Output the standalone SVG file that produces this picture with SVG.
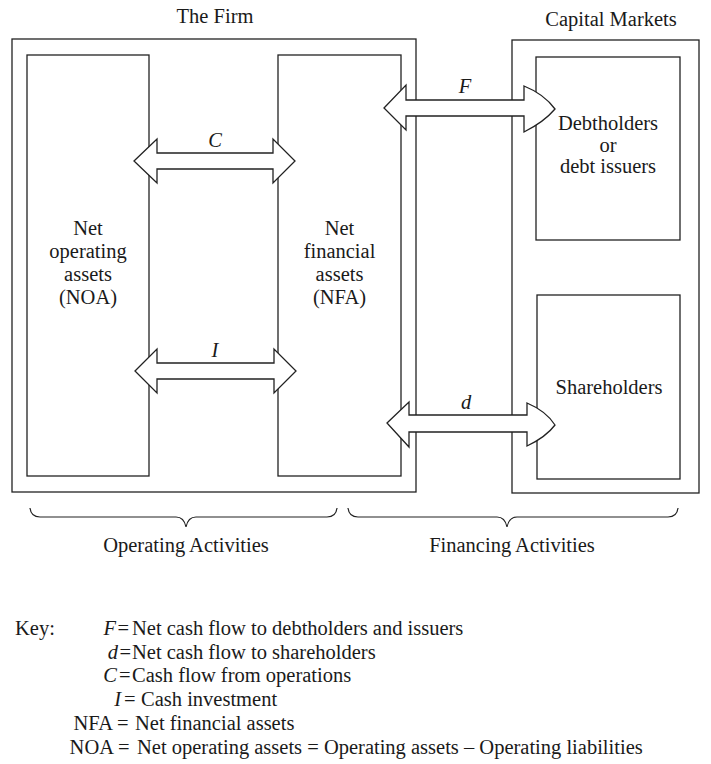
<svg xmlns="http://www.w3.org/2000/svg" width="711" height="764" viewBox="0 0 711 764">
<style>
  .t { font-family: "Liberation Serif", "Times New Roman", serif; font-size: 20.5px; fill: #1a1a1a; }
  .c { text-anchor: middle; }
  .e { text-anchor: end; }
  .i { font-style: italic; }
  .box { fill: none; stroke: #222; stroke-width: 1.3; }
  .arrow { fill: #fff; stroke: #222; stroke-width: 1.3; stroke-linejoin: miter; }
  .brace { fill: none; stroke: #222; stroke-width: 1.2; }
</style>
<rect width="711" height="764" fill="#fff"/>

<g id="firm">
  <rect class="box" x="12" y="39" width="404" height="453"/>
  <text class="t c" x="215" y="23">The Firm</text>
</g>
<g id="capital-markets">
  <rect class="box" x="512" y="40" width="187" height="453"/>
  <text class="t c" x="611" y="26">Capital Markets</text>
</g>
<g id="noa">
  <rect class="box" x="27" y="55" width="122" height="421"/>
  <text class="t c" x="88" y="235">Net</text>
  <text class="t c" x="88" y="258">operating</text>
  <text class="t c" x="88" y="281">assets</text>
  <text class="t c" x="88" y="304">(NOA)</text>
</g>
<g id="nfa">
  <rect class="box" x="278" y="55" width="123" height="421"/>
  <text class="t c" x="339.5" y="235">Net</text>
  <text class="t c" x="339.5" y="258">financial</text>
  <text class="t c" x="339.5" y="281">assets</text>
  <text class="t c" x="339.5" y="304">(NFA)</text>
</g>
<g id="debtholders">
  <rect class="box" x="536" y="57" width="144" height="183"/>
  <text class="t c" x="608" y="130">Debtholders</text>
  <text class="t c" x="608" y="151.5">or</text>
  <text class="t c" x="608" y="173">debt issuers</text>
</g>
<g id="shareholders">
  <rect class="box" x="537" y="295" width="143" height="184"/>
  <text class="t c" x="609" y="394">Shareholders</text>
</g>

<g id="connectors">
  <path class="arrow" d="M134,161 L157,139 L157,153 L273,153 L273,139 L295,161 L273,183 L273,169 L157,169 L157,183 Z"/>
  <text class="t c i" x="215" y="147">C</text>
  <path class="arrow" d="M135,371 L157,349 L157,363 L274,363 L274,349 L296,371 L274,393 L274,379 L157,379 L157,393 Z"/>
  <text class="t c i" x="215" y="357">I</text>
  <path class="arrow" d="M384,108 L406,85 L406,100 L524,100 L524,86 Q544,94 555,109 Q544,122 524,132 L524,116 L406,116 L406,130 Z"/>
  <text class="t c i" x="465" y="93">F</text>
  <path class="arrow" d="M387,423 L409,402 L409,415 L527,415 L527,403 Q546,411 555,425 Q546,437 527,446 L527,432 L409,432 L409,447 Z"/>
  <text class="t c i" x="466" y="409">d</text>
</g>

<g id="braces">
  <path class="brace" d="M30,508 Q31,517 40,517 L176,517 Q184,517 186,527 Q188,517 196,517 L327,517 Q336,517 337,508"/>
  <path class="brace" d="M348,508 Q349,517 358,517 L497,517 Q505,517 507,527 Q509,517 517,517 L668,517 Q677,517 678,508"/>
  <text class="t c" x="186" y="552">Operating Activities</text>
  <text class="t c" x="512" y="552">Financing Activities</text>
</g>

<g id="key">
  <text class="t" x="15" y="635">Key:</text>
  <text class="t e i" x="116" y="635">F</text>
  <text class="t" x="117.5" y="635">=</text>
  <text class="t" x="132" y="635">Net cash flow to debtholders and issuers</text>
  <text class="t e i" x="118" y="659">d</text>
  <text class="t" x="119.5" y="659">=</text>
  <text class="t" x="132" y="659">Net cash flow to shareholders</text>
  <text class="t e i" x="117" y="682">C</text>
  <text class="t" x="119" y="682">=</text>
  <text class="t" x="132" y="682">Cash flow from operations</text>
  <text class="t e i" x="121" y="706">I</text>
  <text class="t" x="124" y="706">=</text>
  <text class="t" x="141" y="706">Cash investment</text>
  <text class="t e" x="113" y="730">NFA</text>
  <text class="t" x="117" y="730">=</text>
  <text class="t" x="135" y="730">Net financial assets</text>
  <text class="t e" x="114" y="754">NOA</text>
  <text class="t" x="118" y="754">=</text>
  <text class="t" x="137" y="754">Net operating assets = Operating assets – Operating liabilities</text>
</g>
</svg>
